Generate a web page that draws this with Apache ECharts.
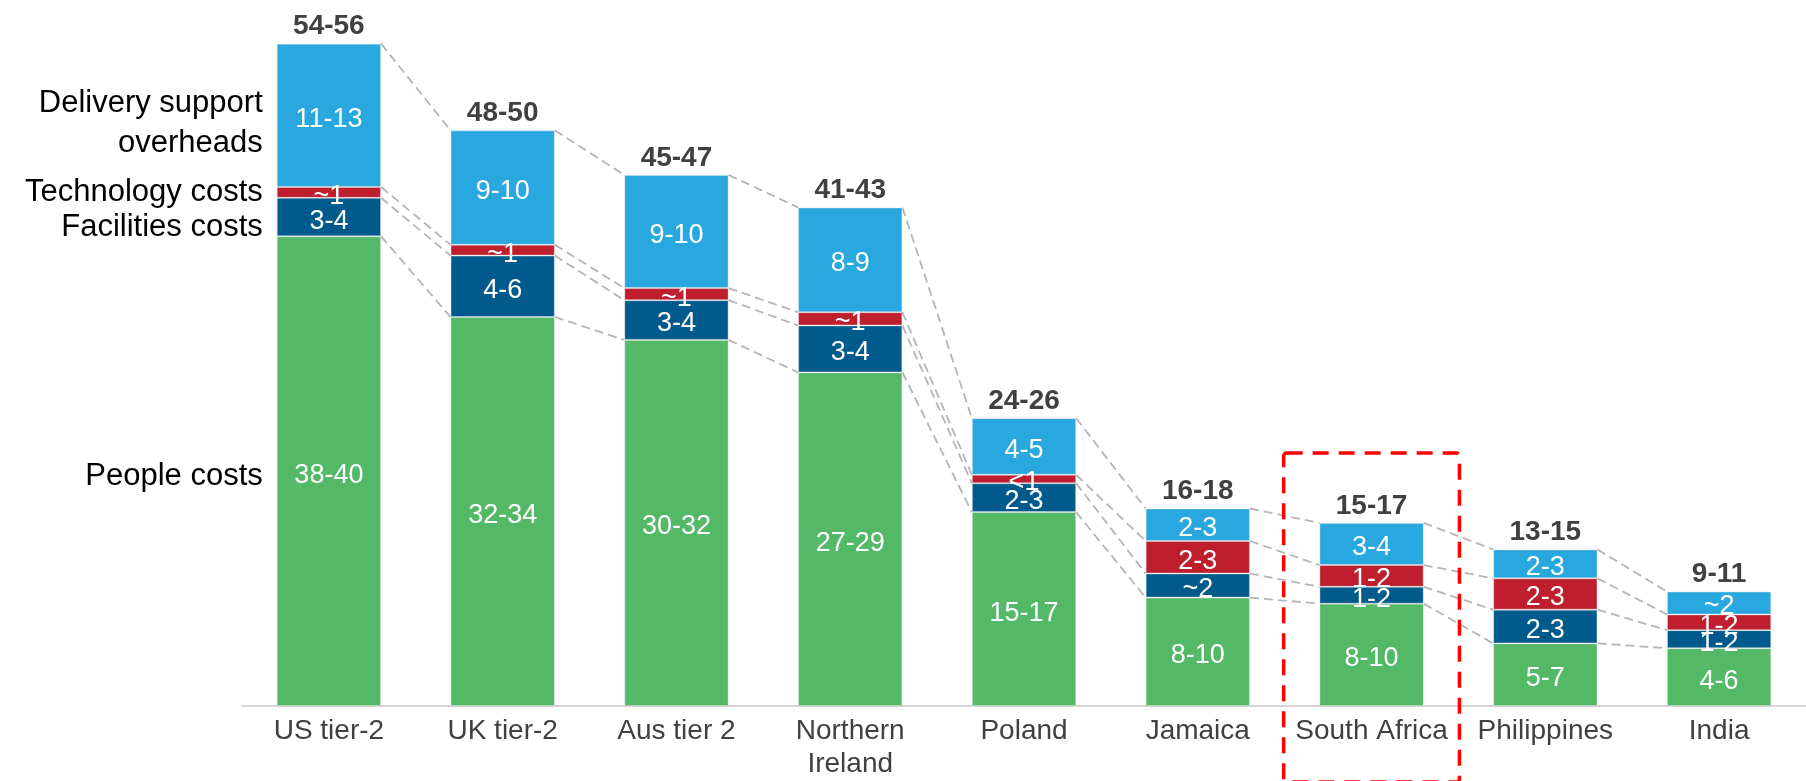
<!DOCTYPE html>
<html>
<head>
<meta charset="utf-8">
<style>
  html, body { margin: 0; padding: 0; background: #ffffff; }
  #chart { width: 1806px; height: 781px; }
</style>
<script src="https://cdn.jsdelivr.net/npm/echarts@6/dist/echarts.min.js"></script>
</head>
<body>
<div id="chart"></div>
<script>
// ---- data ----
const categories = ['US tier-2', 'UK tier-2', 'Aus tier 2', 'Northern\nIreland', 'Poland', 'Jamaica', 'South Africa', 'Philippines', 'India'];
const people      = [39.0, 32.3, 30.4, 27.7, 16.1, 9.0, 8.5, 5.2, 4.8];
const facilities  = [3.2, 5.1, 3.3, 3.9, 2.4, 2.0, 1.4, 2.8, 1.5];
const technology  = [0.9, 0.9, 1.0, 1.1, 0.7, 2.7, 1.8, 2.6, 1.3];
const delivery    = [11.9, 9.5, 9.4, 8.7, 4.7, 2.7, 3.5, 2.4, 1.9];

const peopleLabels     = ['38-40', '32-34', '30-32', '27-29', '15-17', '8-10', '8-10', '5-7', '4-6'];
const facilitiesLabels = ['3-4', '4-6', '3-4', '3-4', '2-3', '~2', '1-2', '2-3', '1-2'];
const technologyLabels = ['~1', '~1', '~1', '~1', '<1', '2-3', '1-2', '2-3', '1-2'];
const deliveryLabels   = ['11-13', '9-10', '9-10', '8-9', '4-5', '2-3', '3-4', '2-3', '~2'];
const totalLabels      = ['54-56', '48-50', '45-47', '41-43', '24-26', '16-18', '15-17', '13-15', '9-11'];

const seriesNames = ['People costs', 'Facilities costs', 'Technology costs', 'Delivery support\noverheads'];
const highlightCategory = 'South Africa';
const highlightTop = 21;

// ---- styles ----
const FONT = '"Liberation Sans", Arial, Helvetica, sans-serif';
const colors = ['#53B966', '#005A8C', '#BE1E2D', '#29A8E0'];
const BAR_FRACTION = 0.6;
const TEXT_DROP = 4;                   // Liberation Sans sits a little high when middle-aligned
const sideLabelShift = [1, 6, -4, 4];  // pixel nudges for the side labels

const layers = [people, facilities, technology, delivery];
const layerLabels = [peopleLabels, facilitiesLabels, technologyLabels, deliveryLabels];

// cumulative tops per layer
const cum = layers.map((_, k) => categories.map((_, i) => {
  let s = 0;
  for (let j = 0; j <= k; j++) s += layers[j][i];
  return s;
}));
const totals = cum[cum.length - 1];

const barSeries = layers.map((arr, k) => ({
  name: seriesNames[k],
  type: 'bar',
  stack: 'cost',
  barCategoryGap: '40%',
  z: 3,
  itemStyle: { color: colors[k], borderColor: 'rgba(225,225,225,0.4)', borderWidth: 1 },
  label: {
    show: true,
    position: 'inside',
    offset: [0, TEXT_DROP],
    color: '#ffffff',
    fontFamily: FONT,
    fontSize: 27,
    formatter: p => layerLabels[k][p.dataIndex]
  },
  data: arr
}));

const connectorSeries = {
  type: 'custom',
  z: 1,
  silent: true,
  clip: false,
  encode: { x: 0, y: 1 },
  data: categories.slice(0, -1).map((c, i) => [i, 0]),
  renderItem: function (params, api) {
    const i = api.value(0);
    const bw = api.size([1, 0])[0] * BAR_FRACTION;
    const children = [];
    for (let k = 0; k < cum.length; k++) {
      const a = api.coord([i, cum[k][i]]);
      const b = api.coord([i + 1, cum[k][i + 1]]);
      children.push({
        type: 'line',
        shape: { x1: a[0] + bw / 2, y1: a[1], x2: b[0] - bw / 2, y2: b[1] },
        style: { stroke: '#B5B5B5', lineWidth: 1.8, lineDash: [9, 5] }
      });
    }
    return { type: 'group', children: children };
  }
};

const totalSeries = {
  type: 'custom',
  z: 5,
  silent: true,
  clip: false,
  encode: { x: 0, y: 1 },
  data: totals.map((t, i) => [i, t]),
  renderItem: function (params, api) {
    const p = api.coord([api.value(0), api.value(1)]);
    return {
      type: 'text',
      x: p[0],
      y: p[1] - 21 + TEXT_DROP,
      style: {
        text: totalLabels[params.dataIndex],
        fill: '#404040',
        fontFamily: FONT,
        fontWeight: 'bold',
        fontSize: 28,
        align: 'center',
        verticalAlign: 'middle'
      }
    };
  }
};

const sideLabelSeries = {
  type: 'custom',
  z: 5,
  silent: true,
  clip: false,
  encode: { x: 0, y: 1 },
  data: layers.map((arr, k) => [0, cum[k][0] - arr[0] / 2]),
  renderItem: function (params, api) {
    const k = params.dataIndex;
    const p = api.coord([api.value(0), api.value(1)]);
    const bw = api.size([1, 0])[0] * BAR_FRACTION;
    return {
      type: 'text',
      x: p[0] - bw / 2 - 14,
      y: p[1] + sideLabelShift[k] + TEXT_DROP,
      style: {
        text: seriesNames[k],
        fill: '#000000',
        fontFamily: FONT,
        fontSize: 31,
        lineHeight: 40,
        align: 'right',
        verticalAlign: 'middle'
      }
    };
  }
};

const boxSeries = {
  type: 'custom',
  z: 6,
  silent: true,
  clip: false,
  encode: { x: 0, y: 1 },
  data: [[categories.indexOf(highlightCategory), highlightTop]],
  renderItem: function (params, api) {
    const p = api.coord([api.value(0), api.value(1)]);
    const band = api.size([1, 0])[0];
    const bottom = api.getHeight() + 1;
    return {
      type: 'rect',
      shape: { x: p[0] - band / 2 - 1, y: p[1], width: band + 2, height: bottom - p[1], r: 3 },
      style: { fill: 'none', stroke: '#FF0000', lineWidth: 3.5, lineDash: [16, 10] }
    };
  }
};

const chart = echarts.init(document.getElementById('chart'), null, { renderer: 'canvas' });
chart.setOption({
  animation: false,
  backgroundColor: '#ffffff',
  grid: { left: 242, right: 0, top: 31.6, bottom: 69.3, containLabel: false },
  xAxis: {
    type: 'category',
    data: categories,
    axisTick: { show: false },
    axisLine: { show: true, lineStyle: { color: '#C8C8C8', width: 1.5 } },
    axisLabel: {
      color: '#404040',
      fontFamily: FONT,
      fontSize: 28,
      lineHeight: 33,
      margin: 9,
      interval: 0
    }
  },
  yAxis: {
    type: 'value',
    min: 0,
    max: 56,
    show: false,
    splitLine: { show: false }
  },
  series: [connectorSeries].concat(barSeries, [totalSeries, sideLabelSeries, boxSeries])
});
</script>
</body>
</html>
